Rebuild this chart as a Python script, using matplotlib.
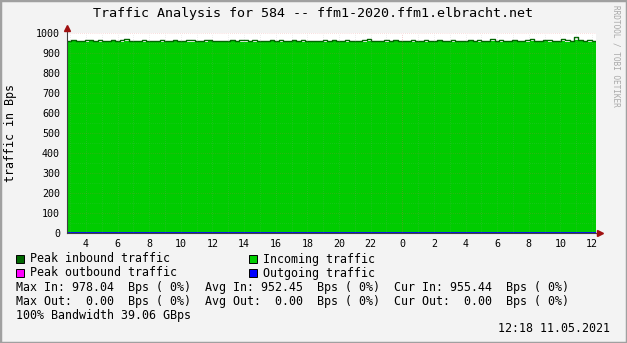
#!/usr/bin/env python3

import numpy as np
import matplotlib
matplotlib.use("Agg")
import matplotlib.pyplot as plt
from matplotlib.patches import Rectangle

# time range in hours since midnight of the first day
t_start = 2.80
t_end = 36.25

avg_in = [
    955, 958, 957, 954, 956, 959, 955, 957, 953, 956, 958, 955, 957, 960, 956, 954, 955, 957, 956, 953,
    955, 957, 954, 956, 958, 955, 953, 956, 957, 955, 954, 957, 959, 956, 955, 953, 956, 958, 955, 957,
    956, 954, 957, 955, 953, 956, 958, 955, 957, 954, 956, 959, 955, 957, 954, 956, 955, 953, 957, 956,
    958, 955, 954, 957, 956, 953, 955, 957, 960, 956, 955, 954, 957, 955, 958, 956, 954, 956, 957, 955,
    954, 957, 956, 955, 958, 954, 956, 957, 955, 953, 956, 958, 955, 957, 954, 956, 959, 955, 957, 956,
    955, 958, 956, 954, 957, 959, 956, 955, 958, 957, 955, 956, 960, 957, 955, 963, 958, 956, 957, 955,
]
peak_in = [
    962, 965, 961, 960, 963, 966, 961, 964, 959, 962, 965, 961, 963, 968, 962, 960, 961, 964, 962, 959,
    961, 964, 960, 962, 966, 961, 959, 963, 964, 961, 960, 963, 967, 962, 961, 959, 962, 965, 961, 964,
    963, 960, 964, 961, 959, 962, 966, 961, 965, 960, 962, 967, 961, 963, 960, 962, 961, 959, 964, 962,
    966, 961, 960, 964, 962, 959, 961, 963, 968, 962, 961, 960, 964, 961, 966, 962, 960, 962, 964, 961,
    960, 964, 962, 961, 966, 960, 962, 964, 961, 959, 962, 967, 961, 964, 960, 962, 968, 961, 965, 962,
    961, 966, 962, 960, 964, 968, 962, 961, 966, 964, 961, 962, 970, 964, 961, 978, 966, 962, 964, 960,
]
avg_out = [0] * len(avg_in)

x_ticks = list(range(4, 37, 2))
x_labels = [str(h % 24) for h in x_ticks]
y_ticks = list(range(0, 1001, 100))

legend_rows = [
    "Max In: 978.04  Bps ( 0%)  Avg In: 952.45  Bps ( 0%)  Cur In: 955.44  Bps ( 0%)",
    "Max Out:  0.00  Bps ( 0%)  Avg Out:  0.00  Bps ( 0%)  Cur Out:  0.00  Bps ( 0%)",
    "100% Bandwidth 39.06 GBps",
]

W, H = 627, 343
BG = "#F3F3F3"
mono = "DejaVu Sans Mono"


def fx(px):
    return px / W


def fy(py):
    return 1 - py / H


def main():
    fig = plt.figure(figsize=(W / 100, H / 100), dpi=100, facecolor=BG)
    # frame shading
    fig.add_artist(Rectangle((0, 0), 1, 1, transform=fig.transFigure, fill=False,
                             edgecolor="#A0A0A0", linewidth=2.5))

    ax = fig.add_axes([fx(67), fy(233), fx(596 - 67), 200 / H])
    ax.set_facecolor("white")

    n = len(avg_in)
    t = np.linspace(t_start, t_end, n + 1)
    a = np.append(avg_in, avg_in[-1])
    p = np.append(peak_in, peak_in[-1])
    o = np.append(avg_out, avg_out[-1])

    ax.fill_between(t, 0, a, step="post", color="#00CC00", linewidth=0, zorder=2)
    ax.step(t, p, where="post", color="#006600", linewidth=1.0, zorder=3)
    ax.step(t, o, where="post", color="#FF00FF", linewidth=1.0, zorder=3)
    ax.step(t, o, where="post", color="#0000FF", linewidth=1.2, zorder=4)

    ax.set_xlim(t_start, t_end)
    ax.set_ylim(0, 1000)

    # grid lines drawn over the data, faint
    for h in range(3, 37):
        major = h % 24 == 0
        ax.axvline(h, color="#E06060" if major else "#A0A0A0", linestyle=(0, (1, 2)),
                   linewidth=0.5, alpha=0.6 if major else 0.35, zorder=5)
    for v in range(100, 1001, 100):
        ax.axhline(v, color="#E06060", linestyle=(0, (1, 2)), linewidth=0.5,
                   alpha=0.4, zorder=5)
    for v in range(50, 1000, 100):
        ax.axhline(v, color="#A0A0A0", linestyle=(0, (1, 2)), linewidth=0.5,
                   alpha=0.3, zorder=5)

    ax.set_xticks(x_ticks)
    ax.set_xticklabels(x_labels)
    ax.set_yticks(y_ticks)
    ax.tick_params(length=0, labelsize=7.2, colors="#000000")
    ax.tick_params(axis="y", pad=5)
    ax.tick_params(axis="x", pad=4)
    for lab in ax.get_xticklabels() + ax.get_yticklabels():
        lab.set_family(mono)

    for s in ["top", "right"]:
        ax.spines[s].set_visible(False)
    ax.spines["left"].set_color("#404040")
    ax.spines["bottom"].set_color("#404040")
    ax.spines["left"].set_bounds(0, 1025)
    ax.spines["left"].set_zorder(6)
    # axis arrows
    ax.plot([0], [1.025], marker="^", color="#A01010", markersize=5,
            transform=ax.transAxes, clip_on=False, zorder=7)
    ax.plot([1.008], [0], marker=">", color="#A01010", markersize=5,
            transform=ax.transAxes, clip_on=False, zorder=7)
    ax.plot([1.0, 1.008], [0, 0], color="#404040", linewidth=0.8,
            transform=ax.transAxes, clip_on=False)

    fig.text(fx(313), fy(13), "Traffic Analysis for 584 -- ffm1-2020.ffm1.elbracht.net",
             family=mono, fontsize=9.6, ha="center", va="center")
    fig.text(fx(11), fy(133), "traffic in Bps", family=mono, fontsize=8.4,
             rotation=90, ha="center", va="center")
    fig.text(fx(616), fy(5), "RRDTOOL / TOBI OETIKER", family=mono, fontsize=5.6,
             rotation=270, ha="center", va="top", color="#A8A8A8")

    legend_items = [
        (16, 259, "#006600", "Peak inbound traffic"),
        (249, 259, "#00CC00", "Incoming traffic"),
        (16, 273, "#FF00FF", "Peak outbound traffic"),
        (249, 273, "#0000FF", "Outgoing traffic"),
    ]
    for x0, y0, col, label in legend_items:
        fig.add_artist(Rectangle((fx(x0), fy(y0 + 4)), 8 / W, 8 / H,
                                 transform=fig.transFigure, facecolor=col,
                                 edgecolor="black", linewidth=0.7))
        fig.text(fx(x0 + 14), fy(y0), label, family=mono, fontsize=8.4,
                 ha="left", va="center")

    for i, row in enumerate(legend_rows):
        fig.text(fx(16), fy(287 + 14 * i), row, family=mono, fontsize=8.4,
                 ha="left", va="center")
    fig.text(fx(610), fy(328), "12:18 11.05.2021", family=mono, fontsize=8.4,
             ha="right", va="center")

    fig.savefig("out.png", dpi=100, facecolor=BG)


if __name__ == "__main__":
    main()
